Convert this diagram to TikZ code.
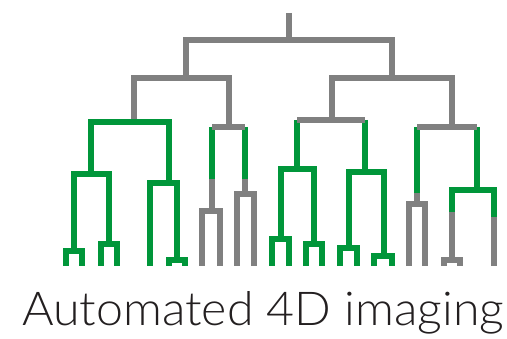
\documentclass[tikz,border=0pt]{standalone}
\usepackage{fontspec}
\IfFontExistsTF{Lato Light}{\setmainfont{Lato Light}}{\setmainfont{Lato}}
\definecolor{dgreen}{RGB}{0,150,58}
\definecolor{dgray}{RGB}{128,128,128}
\definecolor{txt}{RGB}{35,31,32}
\begin{document}
\begin{tikzpicture}[x=1pt,y=-1pt,
  gr/.style={draw=dgray,line width=6.5pt,line join=miter},
  gn/.style={draw=dgreen,line width=6.5pt,line join=miter}]
\useasboundingbox (0,0) rectangle (507,339);
% green verticals under gray bars
\draw[gn] (212,127)--(212,179);
\draw[gn] (245,127)--(245,179);
\draw[gn] (297,120)--(297,169);
\draw[gn] (365,120)--(365,172);
\draw[gn] (417,127)--(417,193);
\draw[gn] (477,127)--(477,190);
% gray structure
\draw[gr] (289,13)--(289,40);
\draw[gr] (186,78)--(186,40)--(392,40)--(392,78);
\draw[gr] (134,122)--(134,78)--(229,78)--(229,127);
\draw[gr] (332,120)--(332,78)--(452,78)--(452,127);
\draw[gr] (212,127)--(245,127);
\draw[gr] (297,120)--(365,120);
\draw[gr] (417,127)--(477,127);
\draw[gr] (212,179)--(212,211);
\draw[gr] (202,266)--(202,211)--(220,211)--(220,266);
\draw[gr] (245,179)--(245,194);
\draw[gr] (237,266)--(237,194)--(254,194)--(254,266);
\draw[gr] (417,193)--(417,204);
\draw[gr] (409,266)--(409,204)--(425,204)--(425,266);
\draw[gr] (452,212)--(452,260);
\draw[gr] (444,266)--(444,260)--(460,260)--(460,266);
\draw[gr] (494,217)--(494,266);
% green structure
\draw[gn] (91,174)--(91,122)--(169,122)--(169,183);
\draw[gn] (74,251)--(74,174)--(109,174)--(109,244);
\draw[gn] (66,266)--(66,251)--(82,251)--(82,266);
\draw[gn] (101,266)--(101,244)--(117,244)--(117,266);
\draw[gn] (150,266)--(150,183)--(177,183)--(177,260);
\draw[gn] (169,266)--(169,260)--(185,260)--(185,266);
\draw[gn] (281,239)--(281,169)--(314,169)--(314,244);
\draw[gn] (272,266)--(272,239)--(289,239)--(289,266);
\draw[gn] (306,266)--(306,244)--(322,244)--(322,266);
\draw[gn] (349,248)--(349,172)--(384,172)--(384,256);
\draw[gn] (340,266)--(340,248)--(357,248)--(357,266);
\draw[gn] (374,266)--(374,256)--(392,256)--(392,266);
\draw[gn] (452,212)--(452,190)--(494,190)--(494,217);
% title
\node[anchor=base west,inner sep=0pt,text=txt] (title) at (22,326)
  {\resizebox{482pt}{34pt}{\fontsize{40}{40}\selectfont Automated 4D imaging}};
\end{tikzpicture}
\end{document}
